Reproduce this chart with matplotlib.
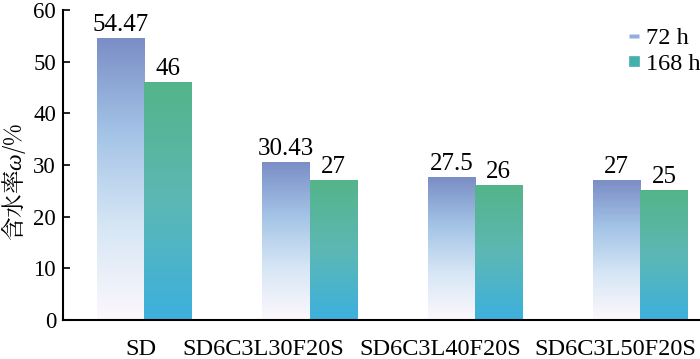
import matplotlib.pyplot as plt
import numpy as np
from matplotlib.colors import LinearSegmentedColormap
from matplotlib.lines import Line2D

# данные
categories = ["SD", "SD6C3L30F20S", "SD6C3L40F20S", "SD6C3L50F20S"]
w_72 = [54.47, 30.43, 27.5, 27]
w_168 = [46, 27, 26, 25]
labels_72 = ["54.47", "30.43", "27.5", "27"]
labels_168 = ["46", "27", "26", "25"]
series_names = ["72 h", "168 h"]

# подписи категорий в оригинале сдвинуты влево относительно групп
label_shift = [-0.02, -0.28, -0.21, -0.15]

plt.rcParams["font.family"] = ["Liberation Serif", "DejaVu Serif"]
plt.rcParams["mathtext.fontset"] = "custom"
plt.rcParams["mathtext.it"] = "Liberation Serif:italic"
plt.rcParams["mathtext.rm"] = "Liberation Serif"

# градиенты: сверху вниз
cmap_72 = LinearSegmentedColormap.from_list("c72", ["#7b8ec6", "#a3c3e6", "#d6e6f5", "#fdf8fc"])
cmap_168 = LinearSegmentedColormap.from_list("c168", ["#54b489", "#5cb8b4", "#3db0de"])

fig = plt.figure(figsize=(7.0, 3.59), dpi=100)
ax = fig.add_axes([0.09, 0.1086, 0.91, 0.8634])

x = np.arange(len(categories))
width = 0.285

bars1 = ax.bar(x - width / 2, w_72, width, color="none")
bars2 = ax.bar(x + width / 2, w_168, width, color="none")

grad = np.linspace(0, 1, 256).reshape(-1, 1)
for bars, cmap in [(bars1, cmap_72), (bars2, cmap_168)]:
    for b in bars:
        x0, w, h = b.get_x(), b.get_width(), b.get_height()
        ax.imshow(grad, cmap=cmap, aspect="auto", extent=[x0, x0 + w, 0, h],
                  origin="upper", zorder=2)

for b, t in zip(bars1, labels_72):
    ax.text(b.get_x() + b.get_width() / 2, b.get_height() + 0.5, t,
            ha="center", va="bottom", fontsize=18)
for b, t in zip(bars2, labels_168):
    ax.text(b.get_x() + b.get_width() / 2, b.get_height() + 0.5, t,
            ha="center", va="bottom", fontsize=18)

ax.set_xlim(-0.49, 3.36)
ax.set_ylim(0, 60)
ax.set_yticks(range(0, 61, 10))
ax.set_xticks(x + np.array(label_shift))
ax.set_xticklabels(categories, fontsize=17.5)
ax.tick_params(axis="y", direction="in", labelsize=16.5, length=5, width=1.2, pad=5)
ax.tick_params(axis="x", length=0, pad=14)

ax.spines["top"].set_visible(False)
ax.spines["right"].set_visible(False)
ax.spines["left"].set_linewidth(1.5)
ax.spines["bottom"].set_linewidth(1.5)

# подпись оси Y
fig.text(14 / 700, 1 - 182 / 359, "含水率$\\it{ω}$/%", fontsize=17, rotation=90,
         ha="center", va="center", family=["Noto Serif CJK JP", "Liberation Serif"])

m_rect = [(-1, -0.45), (1, -0.45), (1, 0.45), (-1, 0.45), (-1, -0.45)]
handles = [Line2D([], [], ls="none", marker=m_rect, markersize=7,
                  markerfacecolor="#93aedc", markeredgecolor="none"),
           Line2D([], [], ls="none", marker="s", markersize=7,
                  markerfacecolor="#3fb3a8", markeredgecolor="#6aa8c8", markeredgewidth=0.6)]
ax.legend(handles, series_names, loc="upper left", bbox_to_anchor=(0.89, 0.945),
          frameon=False, fontsize=17.5, borderpad=0, handlelength=0.3,
          handletextpad=0.35, labelspacing=0.15, borderaxespad=0)

fig.savefig("out.png", dpi=100)
